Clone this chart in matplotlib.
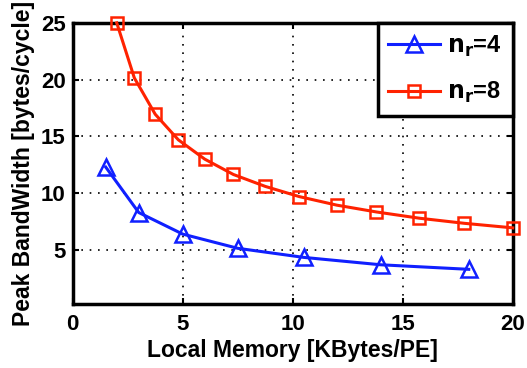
import matplotlib
matplotlib.use("Agg")
import matplotlib.pyplot as plt

plt.rcParams['font.family'] = ['Liberation Sans', 'DejaVu Sans']
plt.rcParams['font.weight'] = 'bold'
plt.rcParams['mathtext.default'] = 'bf'

# n_r = 4
mem_r4 = [1.5, 3.0, 5.0, 7.5, 10.5, 14.0, 18.0]
bw_r4 = [12.3, 8.3, 6.4, 5.15, 4.35, 3.7, 3.3]
# n_r = 8
mem_r8 = [2.0, 2.8, 3.75, 4.8, 6.0, 7.3, 8.75, 10.3, 12.0, 13.8, 15.75, 17.8, 20.0]
bw_r8 = [25.0, 20.15, 16.95, 14.7, 13.0, 11.65, 10.6, 9.7, 8.95, 8.35, 7.8, 7.35, 6.95]

xticks = [0, 5, 10, 15, 20]
yticks = [5, 10, 15, 20, 25]

fig = plt.figure(figsize=(5.27, 3.68), dpi=100)
ax = fig.add_axes([0.138, 0.174, 0.835, 0.764])

ax.plot(mem_r4, bw_r4, color='#1020ff', lw=2.2, marker='^', ms=11,
        mfc='none', mec='#1020ff', mew=1.8, label='$n_r$=4', clip_on=False, zorder=3)
ax.plot(mem_r8, bw_r8, color='#ff2200', lw=2.2, marker='s', ms=8.5,
        mfc='none', mec='#ff2200', mew=1.8, label='$n_r$=8', clip_on=False, zorder=3)

ax.set_xlim(0, 20)
ax.set_ylim(0.25, 25)
ax.set_xticks(xticks)
ax.set_yticks(yticks)
ax.grid(True, color='black', linestyle=(0, (1, 4)), linewidth=1.2)
ax.tick_params(labelsize=16, length=4, width=1.5, direction='in', top=True, right=True)
ax.tick_params(axis='x', pad=7)
ax.tick_params(axis='y', pad=5)
for s in ax.spines.values():
    s.set_linewidth(2.5)

ax.set_xlabel('Local Memory [KBytes/PE]', fontsize=16.5, fontweight='bold', labelpad=3)
ax.set_ylabel('Peak BandWidth [bytes/cycle]', fontsize=16.5, fontweight='bold', labelpad=4)

leg = ax.legend(loc='upper right', fontsize=17, borderaxespad=0, fancybox=False,
                framealpha=1, edgecolor='black', handlelength=2.2, handletextpad=0.3,
                labelspacing=0.9, borderpad=0.45)
leg.get_frame().set_linewidth(2.5)

fig.savefig('out.png', dpi=100)
